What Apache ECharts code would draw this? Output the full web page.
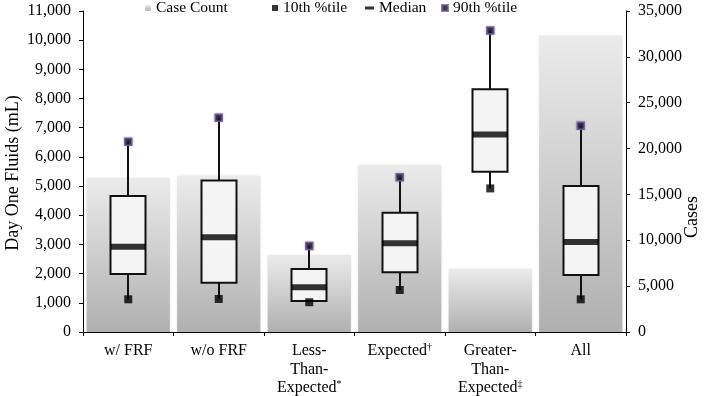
<!DOCTYPE html>
<html>
<head>
<meta charset="UTF-8">
<title>Day One Fluids</title>
<script src="https://cdn.jsdelivr.net/npm/echarts@6/dist/echarts.min.js"></script>
<style>
  html, body { margin: 0; padding: 0; background: #fff; }
  #main { width: 709px; height: 396px; }
</style>
</head>
<body>
<div id="main"></div>
<script>
// categories and values
var categories = ['w/ FRF', 'w/o FRF', 'Less-\nThan-\nExpected*', 'Expected\u2020', 'Greater-\nThan-\nExpected\u2021', 'All'];
var caseCount = [16800, 17000, 8400, 18200, 6900, 32300];
var p10 = [1120, 1130, 1020, 1440, 4920, 1120];
var q1 = [1990, 1690, 1060, 2050, 5490, 1950];
var median = [2920, 3250, 1530, 3040, 6770, 3080];
var q3 = [4660, 5190, 2160, 4090, 8320, 5000];
var p90 = [6520, 7340, 2950, 5300, 10330, 7070];

var font = 'Liberation Serif';
var boxData = categories.map(function (c, i) {
    return [i, p10[i], q1[i], median[i], q3[i], p90[i]];
});

function commas(v) {
    return String(v).replace(/\B(?=(\d{3})+(?!\d))/g, ',');
}

var chart = echarts.init(document.getElementById('main'));
var legendText = { fontFamily: font, fontSize: 15.5, color: '#000' };
var titleStyle = { fontFamily: font, fontSize: 18, fill: '#000', align: 'center', verticalAlign: 'middle' };

var option = {
    animation: false,
    grid: { left: 83, right: 83, top: 11, bottom: 64, outerBoundsMode: 'none', containLabel: false },
    legend: [
        { data: ['Case Count'], left: 145, top: 0, itemWidth: 6, itemHeight: 6, itemGap: 4, textStyle: legendText, padding: 0 },
        { data: ['10th %tile'], left: 272, top: 0, itemWidth: 6, itemHeight: 6, textStyle: legendText, padding: 0 },
        { data: ['Median'], left: 365, top: 0, itemWidth: 9, itemHeight: 3, textStyle: legendText, padding: 0 },
        { data: ['90th %tile'], left: 441, top: 0, itemWidth: 6, itemHeight: 6, textStyle: legendText, padding: 0 }
    ],
    graphic: [
        { type: 'text', x: 13, y: 173, rotation: Math.PI / 2, style: Object.assign({ text: 'Day One Fluids (mL)' }, titleStyle) },
        { type: 'text', x: 692, y: 217, rotation: Math.PI / 2, style: Object.assign({ text: 'Cases' }, titleStyle) }
    ],
    xAxis: {
        type: 'category',
        data: categories,
        axisLine: { lineStyle: { color: '#000', width: 1 } },
        axisTick: { show: true, length: 4, lineStyle: { color: '#000' } },
        axisLabel: {
            interval: 0,
            margin: 10,
            color: '#000',
            fontFamily: font,
            fontSize: 16,
            lineHeight: 18.5,
            formatter: function (v) {
                return v.replace(/([*\u2020\u2021])/g, '{sup|$1}');
            },
            rich: {
                sup: { fontFamily: font, fontSize: 10, verticalAlign: 'top', color: '#000', lineHeight: 18.5, padding: [0, 0, 7, 0] }
            }
        }
    },
    yAxis: [
        {
            type: 'value', min: 0, max: 11000, interval: 1000,
            axisLine: { show: true, lineStyle: { color: '#000' } },
            axisTick: { show: true, length: 4, lineStyle: { color: '#000' } },
            splitLine: { show: false },
            axisLabel: { color: '#000', fontFamily: font, fontSize: 16, margin: 12, formatter: commas }
        },
        {
            type: 'value', min: 0, max: 35000, interval: 5000,
            axisLine: { show: true, lineStyle: { color: '#000' } },
            axisTick: { show: true, length: 4, lineStyle: { color: '#000' } },
            splitLine: { show: false },
            axisLabel: { color: '#000', fontFamily: font, fontSize: 16, margin: 12, formatter: commas }
        }
    ],
    series: [
        {
            name: 'Case Count',
            type: 'bar',
            yAxisIndex: 1,
            data: caseCount,
            barCategoryGap: '8%',
            z: 1,
            itemStyle: {
                color: new echarts.graphic.LinearGradient(0, 0, 0, 1, [
                    { offset: 0, color: '#ebebeb' },
                    { offset: 1, color: '#b0b0b0' }
                ]),
                shadowBlur: 3,
                shadowColor: 'rgba(0,0,0,0.12)'
            }
        },
        {
            name: 'box',
            type: 'custom',
            z: 3,
            data: boxData,
            renderItem: function (params, api) {
                var x = api.value(0);
                var pLo = api.coord([x, api.value(1)]);
                var pQ1 = api.coord([x, api.value(2)]);
                var pQ3 = api.coord([x, api.value(4)]);
                var pHi = api.coord([x, api.value(5)]);
                var w = 35;
                var cx = Math.round(pLo[0]);
                return {
                    type: 'group',
                    children: [
                        { type: 'line', shape: { x1: cx, y1: pLo[1], x2: cx, y2: pHi[1] },
                          style: { stroke: '#111', lineWidth: 2 } },
                        { type: 'rect', shape: { x: cx - w / 2, y: pQ3[1], width: w, height: pQ1[1] - pQ3[1] },
                          style: { fill: '#f4f4f4', stroke: '#111', lineWidth: 2 } }
                    ]
                };
            }
        },
        {
            name: 'Median',
            type: 'scatter',
            z: 4,
            data: median.map(function (v, i) { return [i, v]; }),
            symbol: 'rect',
            symbolSize: [35, 6],
            itemStyle: { color: '#000' }
        },
        {
            name: '10th %tile',
            type: 'scatter',
            z: 4,
            data: p10.map(function (v, i) { return [i, v]; }),
            symbol: 'rect',
            symbolSize: 8,
            itemStyle: { color: '#000' }
        },
        {
            name: '90th %tile',
            type: 'scatter',
            z: 4,
            data: p90.map(function (v, i) { return [i, v]; }),
            symbol: 'rect',
            symbolSize: 7,
            itemStyle: { color: '#14101e', borderColor: '#6e5c9a', borderWidth: 1.5, shadowBlur: 2, shadowColor: 'rgba(90,70,140,0.6)' }
        }
    ]
};
chart.setOption(option);
</script>
</body>
</html>
